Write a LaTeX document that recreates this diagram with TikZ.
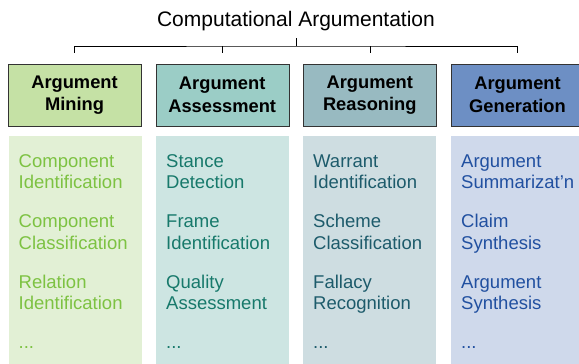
\documentclass[tikz,border=0pt]{standalone}
\usepackage{fontspec}
\setmainfont{Liberation Sans}
\definecolor{miningHead}{HTML}{C5E1A5}
\definecolor{miningPanel}{HTML}{E2F0D5}
\definecolor{miningText}{HTML}{7DC242}
\definecolor{assessHead}{HTML}{9BCDC6}
\definecolor{assessPanel}{HTML}{CDE5E2}
\definecolor{assessText}{HTML}{17796B}
\definecolor{reasonHead}{HTML}{98BAC1}
\definecolor{reasonPanel}{HTML}{CEDDE1}
\definecolor{reasonText}{HTML}{1D5B6B}
\definecolor{genHead}{HTML}{6D8FC4}
\definecolor{genPanel}{HTML}{CFD9EB}
\definecolor{genText}{HTML}{2150A0}
\tikzset{head box/.style={draw=black!80,thin,minimum width=133pt,minimum height=62pt,inner sep=0pt,align=center,font=\bfseries\fontsize{18.3}{22.7}\selectfont}}
\tikzset{task panel/.style={anchor=north,minimum width=133pt,minimum height=232pt,inner sep=0pt}}
\tikzset{task list/.style={anchor=base west,align=left,inner sep=0pt,font=\fontsize{18.5}{21.5}\selectfont}}

\begin{document}
\begin{tikzpicture}[x=1pt,y=-1pt]
\useasboundingbox (0,0) rectangle (579,364);
\clip (0,0) rectangle (579,364);

\node[font=\fontsize{21}{25}\selectfont] (title) at (296,21.5) {Computational Argumentation};

% the four areas
\node[head box,fill=miningHead] (mining) at (74.5,95) {Argument\\Mining};
\node[head box,fill=assessHead] (assessment) at (222.2,95) {Argument\\Assessment};
\node[head box,fill=reasonHead] (reasoning) at (369.8,95) {Argument\\Reasoning};
\node[head box,fill=genHead] (generation) at (517.5,95) {Argument\\Generation};

% bracket below the title
\coordinate (bar) at (296,46);
\draw ([yshift=11pt]mining.north) |- (bar) -| ([yshift=11pt]generation.north);
\draw (assessment.north |- bar) -- ([yshift=11pt]assessment.north);
\draw (reasoning.north |- bar) -- ([yshift=11pt]reasoning.north);
\draw (bar) -- ++(0,-8);

% task panels
\node[task panel,fill=miningPanel] (miningTasks) at (75.5,136) {};
\node[task panel,fill=assessPanel] (assessTasks) at (222.5,136) {};
\node[task panel,fill=reasonPanel] (reasonTasks) at (369.5,136) {};
\node[task panel,fill=genPanel] (genTasks) at (517.5,136) {};

% base of a two-line node is its last line
\scoped[every node/.style={task list,text=miningText}]{
\node (compId) at (18.5,188.5) {Component\\Identification};
\node (compCls) at (18.5,249) {Component\\Classification};
\node (relId) at (18.5,309.5) {Relation\\Identification};
\node (miningMore) at (18.5,348) {...};
}
\scoped[every node/.style={task list,text=assessText}]{
\node (stance) at (166,188.5) {Stance\\Detection};
\node (frame) at (166,249) {Frame\\Identification};
\node (quality) at (166,309.5) {Quality\\Assessment};
\node (assessMore) at (166,348) {...};
}
\scoped[every node/.style={task list,text=reasonText}]{
\node (warrant) at (313,188.5) {Warrant\\Identification};
\node (scheme) at (313,249) {Scheme\\Classification};
\node (fallacy) at (313,309.5) {Fallacy\\Recognition};
\node (reasonMore) at (313,348) {...};
}
\scoped[every node/.style={task list,text=genText}]{
\node (summary) at (461,188.5) {Argument\\Summarizat'n};
\node (claim) at (461,249) {Claim\\Synthesis};
\node (synth) at (461,309.5) {Argument\\Synthesis};
\node (genMore) at (461,348) {...};
}

\end{tikzpicture}
\end{document}
